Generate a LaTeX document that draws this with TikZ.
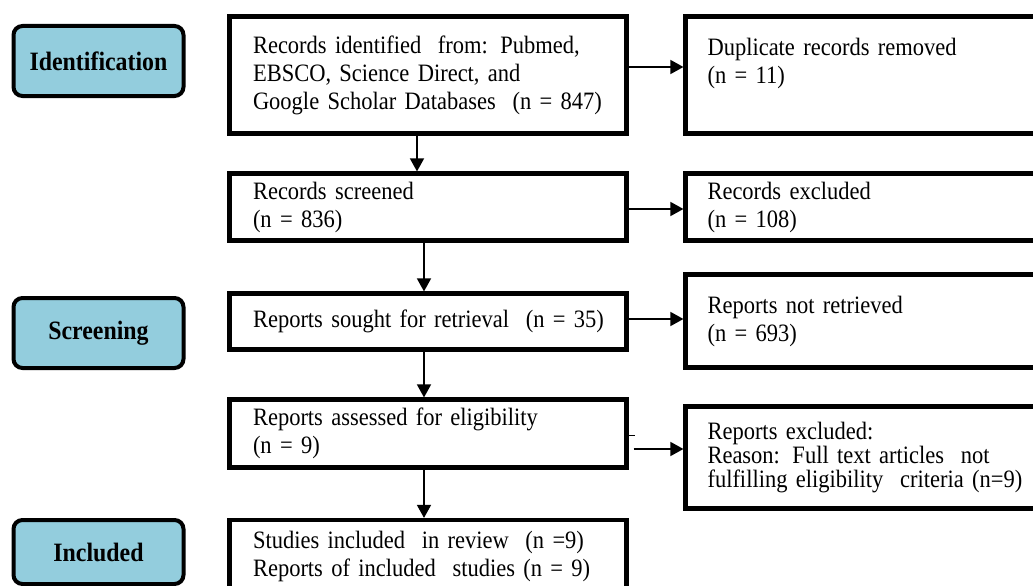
\documentclass[tikz,border=0pt]{standalone}
\usepackage{fontspec}
\setmainfont{Liberation Serif}[WordSpace=0.7,FakeStretch=0.9]
\usetikzlibrary{arrows.meta}
\definecolor{labblue}{RGB}{147,205,221}
\begin{document}
\begin{tikzpicture}[x=1pt,y=-1pt,
  every node/.style={font=\fontsize{25}{28}\selectfont},
  stage/.style={draw, line width=4pt, fill=labblue, rounded corners=9pt,
    minimum width=170pt, minimum height=70pt, inner sep=0pt,
    font=\fontsize{26.5}{28}\selectfont\bfseries},
  mainbox/.style={draw, line width=4.2pt, minimum width=397pt, inner xsep=23.5pt,
    inner ysep=0pt, text width=350pt, align=left},
  sidebox/.style={draw, line width=4.2pt, minimum width=365pt, inner xsep=22pt,
    inner ysep=0pt, text width=321pt, align=left},
  arr/.style={line width=1.6pt, -{Triangle[length=13pt,width=14pt]}}
]
\useasboundingbox (0,0) rectangle (1033,586);

% stage labels
\node[stage] (sid) at (98.5,61) {Identification};
\node[stage] (sscr) at (98.5,333) {Screening};
\node[stage, minimum height=64pt] (sinc) at (98.5,552) {Included};

% main column
\node[mainbox, minimum height=117pt] (b1) at (428,75)
  {\mbox{Records identified\ \ from: Pubmed,}\\\mbox{EBSCO, Science Direct, and}\\\mbox{Google Scholar Databases\ \ (n = 847)}};
\node[mainbox, minimum height=67pt] (b2) at (428,207)
  {Records screened\\(n = 836)};
\node[mainbox, minimum height=56pt] (b3) at (428,321.5)
  {\mbox{Reports sought for retrieval\ \ (n = 35)}};
\node[mainbox, minimum height=68pt] (b4) at (428,433.5)
  {Reports assessed for eligibility\\(n = 9)};
\node[mainbox, minimum height=72pt] (b5) at (428,556)
  {\mbox{Studies included\ \ in review\ \ (n =9)}\\\mbox{Reports of included\ \ studies (n = 9)}};

% side column
\node[sidebox, minimum height=117pt] (r1) at (868,75)
  {Duplicate records removed\\(n = 11)\\\mbox{}};
\node[sidebox, minimum height=67pt] (r2) at (868,207)
  {Records excluded\\(n = 108)};
\node[sidebox, minimum height=93pt] (r3) at (868,321)
  {Reports not retrieved\\(n = 693)};
\node[sidebox, minimum height=102pt, font=\fontsize{25}{24}\selectfont] (r4) at (868,457.5)
  {Reports excluded:\\\mbox{Reason: Full text articles\ \ not}\\\mbox{fulfilling eligibility\ \ criteria\ (n=9)}};

% vertical arrows
\draw[arr] (b1.south -| 417,0) -- (b2.north -| 417,0);
\draw[arr] (b2.south -| 424,0) -- (b3.north -| 424,0);
\draw[arr] (b3.south -| 424,0) -- (b4.north -| 424,0);
\draw[arr] (b4.south -| 424,0) -- (b5.north -| 424,0);

% horizontal arrows
\draw[arr] (b1.east |- 0,67) -- (r1.west |- 0,67);
\draw[arr] (b2.east |- 0,209) -- (r2.west |- 0,209);
\draw[arr] (b3.east |- 0,319) -- (r3.west |- 0,319);
\coordinate (s4) at ([xshift=5pt]b4.east |- 0,449);
\draw[arr] (s4) -- (r4.west |- 0,449);
\draw[line width=1pt] (b4.east |- 0,435) -- ++(6,0);
\end{tikzpicture}
\end{document}
